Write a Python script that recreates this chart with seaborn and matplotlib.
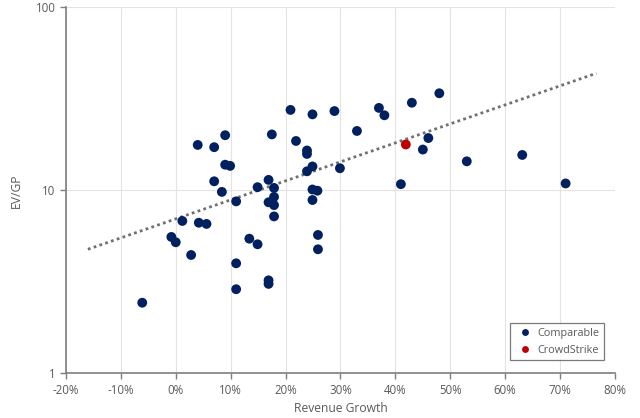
import numpy as np
import pandas as pd
import matplotlib
matplotlib.use("Agg")
import matplotlib.pyplot as plt
import seaborn as sns
from matplotlib.ticker import FuncFormatter, FixedLocator, NullLocator

# Revenue growth (%) and EV/GP for the comparable companies
comp_growth = [4.0, 7.0, 9.0, 17.5, 20.9, 24.9, 21.9, 23.9, 23.9, 9.0,
               9.9, 24.9, 23.9, 7.0, 8.4, 14.9, 16.9, 17.9, 11.0, 16.9,
               17.9, 17.9, 24.9, 25.8, 24.9, 28.9, 37.0, 38.0, 43.0, 48.0,
               33.0, 46.0, 45.0, 53.0, 63.1, 29.9, 41.0, 71.0, 17.9, 1.2,
               4.2, 5.6, -0.8, 0.0, 2.8, 13.4, 14.9, 11.0, 16.9, 16.9,
               11.0, -6.1, 25.9, 25.9]
comp_evgp = [17.7, 17.2, 20.0, 20.2, 27.5, 26.0, 18.6, 16.5, 15.8, 13.8,
             13.6, 13.5, 12.7, 11.2, 9.8, 10.4, 11.4, 10.3, 8.7, 8.6,
             9.2, 8.3, 10.1, 9.95, 8.85, 27.1, 28.2, 25.7, 30.1, 33.9,
             21.1, 19.3, 16.7, 14.4, 15.6, 13.2, 10.8, 10.9, 7.2, 6.8,
             6.65, 6.55, 5.56, 5.2, 4.43, 5.44, 5.07, 3.99, 3.22, 3.08,
             2.88, 2.43, 5.7, 4.76]
crwd_growth = [41.9]
crwd_evgp = [17.8]

# exponential trendline end points
trend_growth = [-16.0, 76.6]
trend_evgp = [4.76, 43.6]

df = pd.DataFrame({
    "growth": comp_growth + crwd_growth,
    "evgp": comp_evgp + crwd_evgp,
    "group": ["Comparable"] * len(comp_growth) + ["CrowdStrike"] * len(crwd_growth),
})
trend = pd.DataFrame({"growth": trend_growth, "evgp": trend_evgp})

sns.set_style("white")
plt.rcParams["font.family"] = ["Open Sans", "DejaVu Sans"]

fig = plt.figure(figsize=(6.4, 4.18), dpi=100)
ax = fig.add_axes([0.103, 0.107, 0.858, 0.8755])

sns.lineplot(data=trend, x="growth", y="evgp", ax=ax, color="#707070",
             linestyle=(0, (1, 1.2)), linewidth=2, legend=False, zorder=2)

sns.scatterplot(data=df, x="growth", y="evgp", hue="group", ax=ax,
                palette={"Comparable": "#002060", "CrowdStrike": "#C00000"},
                s=50, edgecolor="none", zorder=3)

ax.set_yscale("log")
ax.set_ylim(1, 100)
ax.set_xlim(-20, 80)
ax.yaxis.set_major_locator(FixedLocator([1, 10, 100]))
ax.yaxis.set_minor_locator(NullLocator())
ax.yaxis.set_major_formatter(FuncFormatter(lambda v, p: f"{v:g}"))
ax.set_xticks(np.arange(-20, 81, 10))
ax.xaxis.set_major_formatter(FuncFormatter(lambda v, p: f"{v:.0f}%"))

ax.grid(True, color="#e3e3e3", linewidth=0.8)
ax.set_axisbelow(True)
for side in ["top", "right"]:
    ax.spines[side].set_visible(False)
for side in ["left", "bottom"]:
    ax.spines[side].set_color("#7f7f7f")
    ax.spines[side].set_linewidth(1.2)

ax.tick_params(axis="both", colors="#7f7f7f", labelcolor="#595959",
               labelsize=8.3, length=4, width=1, direction="out")
ax.tick_params(axis="both", which="both", bottom=True, left=True)

ax.set_xlabel("Revenue Growth", color="#595959", fontsize=8.7, labelpad=4)
ax.set_ylabel("EV/GP", color="#595959", fontsize=8.7, labelpad=9)

leg = ax.legend(loc="lower right", bbox_to_anchor=(0.98, 0.035), fontsize=7.8,
                frameon=True, fancybox=False, edgecolor="#595959",
                handletextpad=0.1, borderpad=0.45, labelspacing=0.55,
                markerscale=0.7, borderaxespad=0)
leg.get_frame().set_linewidth(0.9)
for t in leg.get_texts():
    t.set_color("#595959")

fig.savefig("out.png", dpi=100)
